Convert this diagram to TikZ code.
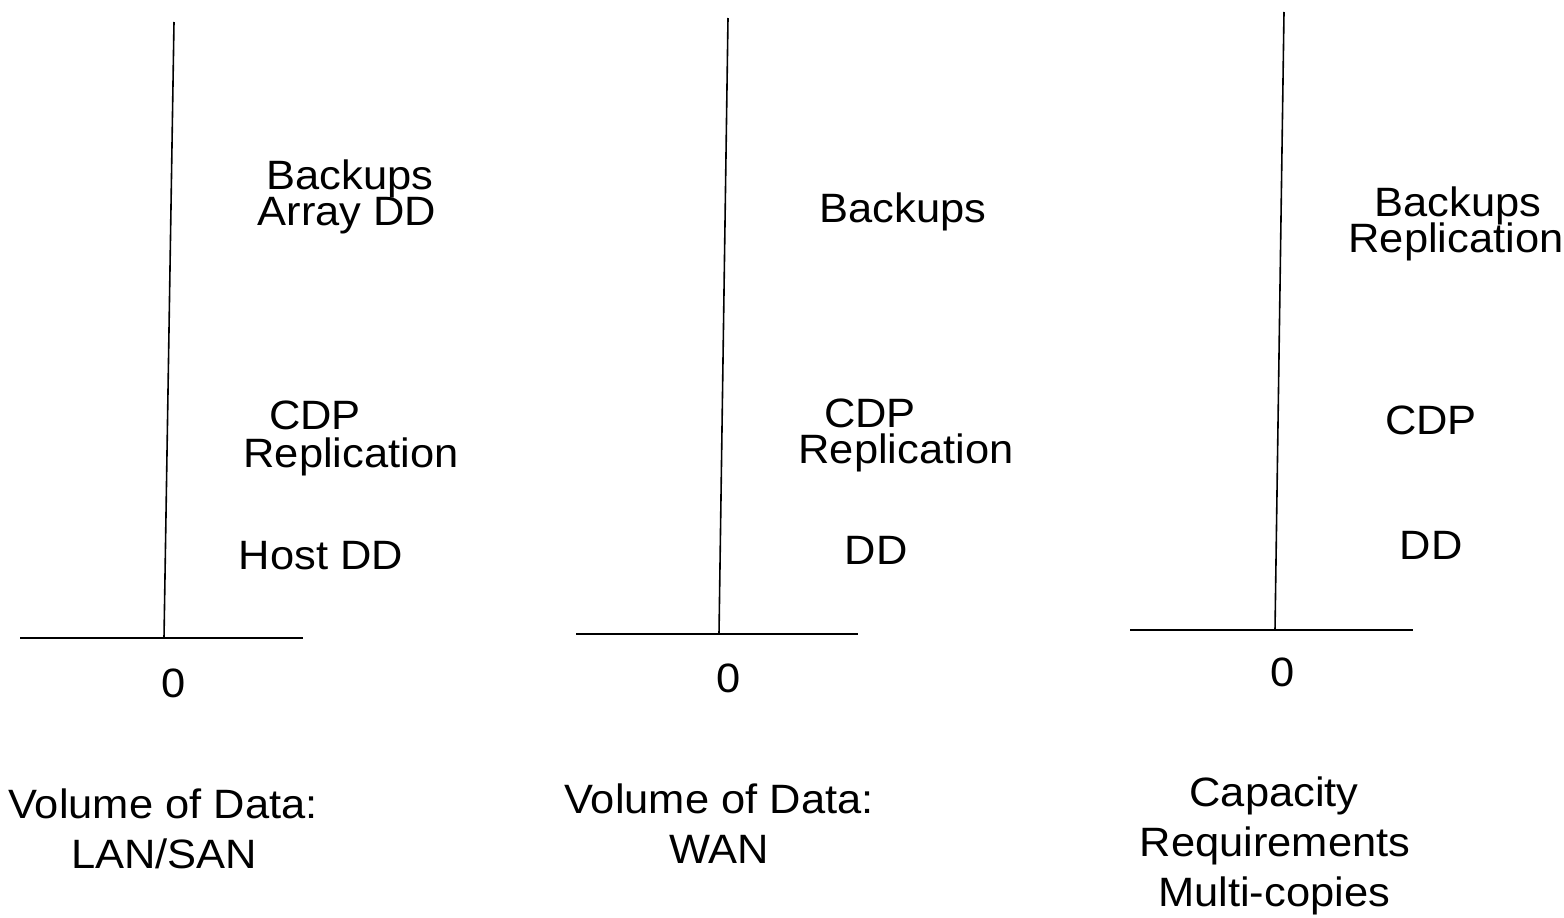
\documentclass[tikz,border=0pt]{standalone}
\usepackage{fontspec}
\setmainfont[FakeStretch=1.06]{Liberation Sans}
\begin{document}
\begin{tikzpicture}[x=1pt,y=-1pt,
  lbl/.style={anchor=base,inner sep=0pt,font=\fontsize{41}{48}\selectfont},
  axis/.style={line width=1.6pt,black}]
\useasboundingbox (0,0) rectangle (1564,918);
% panel 1
\coordinate (t1) at (174,22);
\coordinate (b1) at (164,638);
\coordinate (l1) at (20,638);
\coordinate (r1) at (303,638);
\draw[axis] (t1) -- (b1);
\draw[axis] (l1) -- (r1);
\node[lbl] (p1a) at (350,189) {Backups};
\node[lbl] (p1b) at (347,225) {Array DD};
\node[lbl] (p1c) at (315,429) {CDP};
\node[lbl] (p1d) at (351,467) {Replication};
\node[lbl] (p1e) at (321,569) {Host DD};
\node[lbl] (p1z) at (174,697) {0};
\node[lbl] (p1f) at (163,818) {Volume of Data:};
\node[lbl] (p1g) at (164,868) {LAN/SAN};
% panel 2
\coordinate (t2) at (728,18);
\coordinate (b2) at (719,634);
\coordinate (l2) at (576,634);
\coordinate (r2) at (858,634);
\draw[axis] (t2) -- (b2);
\draw[axis] (l2) -- (r2);
\node[lbl] (p2a) at (903,222) {Backups};
\node[lbl] (p2c) at (870,427) {CDP};
\node[lbl] (p2d) at (906,463) {Replication};
\node[lbl] (p2e) at (876,564) {DD};
\node[lbl] (p2z) at (729,692) {0};
\node[lbl] (p2f) at (719,813) {Volume of Data:};
\node[lbl] (p2g) at (719,863) {WAN};
% panel 3
\coordinate (t3) at (1284,12);
\coordinate (b3) at (1275,630);
\coordinate (l3) at (1130,630);
\coordinate (r3) at (1413,630);
\draw[axis] (t3) -- (b3);
\draw[axis] (l3) -- (r3);
\node[lbl] (p3a) at (1458,216) {Backups};
\node[lbl] (p3b) at (1456,252) {Replication};
\node[lbl] (p3c) at (1431,434) {CDP};
\node[lbl] (p3e) at (1431,559) {DD};
\node[lbl] (p3z) at (1283,686) {0};
\node[lbl] (p3f) at (1274,806) {Capacity};
\node[lbl] (p3g) at (1275,856) {Requirements};
\node[lbl] (p3h) at (1274,906) {Multi-copies};
\end{tikzpicture}
\end{document}
